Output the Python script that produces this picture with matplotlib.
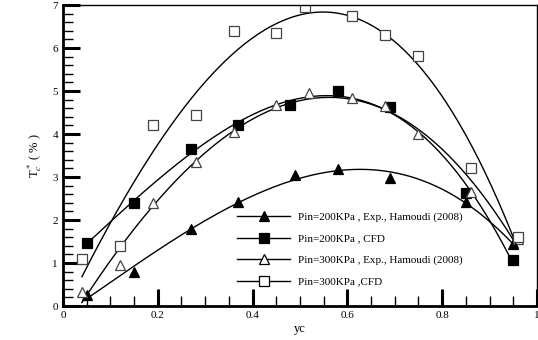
import matplotlib
matplotlib.use("Agg")
import matplotlib.pyplot as plt
from matplotlib.ticker import MultipleLocator
import numpy as np

plt.rcParams["font.family"] = ["Liberation Serif", "DejaVu Serif"]
plt.rcParams["mathtext.fontset"] = "stix"

# Pin=200KPa, Exp., Hamoudi (2008)
x_exp200 = [0.05, 0.15, 0.27, 0.37, 0.49, 0.58, 0.69, 0.85, 0.95]
y_exp200 = [0.25, 0.78, 1.80, 2.42, 3.05, 3.18, 2.98, 2.42, 1.45]

# Pin=200KPa, CFD
x_cfd200 = [0.05, 0.15, 0.27, 0.37, 0.48, 0.58, 0.69, 0.85, 0.95]
y_cfd200 = [1.47, 2.40, 3.65, 4.20, 4.68, 5.00, 4.62, 2.62, 1.08]

# Pin=300KPa, Exp., Hamoudi (2008)
x_exp300 = [0.04, 0.12, 0.19, 0.28, 0.36, 0.45, 0.52, 0.61, 0.68, 0.75, 0.86, 0.96]
y_exp300 = [0.33, 0.95, 2.40, 3.35, 4.05, 4.68, 4.95, 4.85, 4.65, 4.00, 2.65, 1.55]

# Pin=300KPa, CFD
x_cfd300 = [0.04, 0.12, 0.19, 0.28, 0.36, 0.45, 0.51, 0.61, 0.68, 0.75, 0.86, 0.96]
y_cfd300 = [1.10, 1.40, 4.20, 4.45, 6.40, 6.35, 6.95, 6.75, 6.30, 5.82, 3.22, 1.60]

series = [
    (x_exp200, y_exp200, "^", "black", "Pin=200KPa , Exp., Hamoudi (2008)"),
    (x_cfd200, y_cfd200, "s", "black", "Pin=200KPa , CFD"),
    (x_exp300, y_exp300, "^", "white", "Pin=300KPa , Exp., Hamoudi (2008)"),
    (x_cfd300, y_cfd300, "s", "white", "Pin=300KPa ,CFD"),
]

fig = plt.figure(figsize=(5.38, 3.40), dpi=100)
ax = fig.add_axes([0.117, 0.10, 0.881, 0.885])

for xs, ys, mk, fc, lbl in series:
    xs = np.asarray(xs)
    ys = np.asarray(ys)
    # cubic trend line through each data set
    coef = np.polyfit(xs, ys, 3)
    xf = np.linspace(xs.min(), xs.max(), 200)
    ax.plot(xf, np.polyval(coef, xf), color="black", lw=1.0)
    ax.plot(xs, ys, linestyle="none", marker=mk, ms=7, mfc=fc,
            mec="black" if fc == "black" else "#444444", mew=0.9)
    ax.plot([], [], color="black", lw=1.0, marker=mk, ms=7, mfc=fc,
            mec="black", mew=0.9, label=lbl)

ax.set_xlim(0, 1)
ax.set_ylim(0, 7)
ax.xaxis.set_major_locator(MultipleLocator(0.2))
ax.xaxis.set_minor_locator(MultipleLocator(0.05))
ax.yaxis.set_major_locator(MultipleLocator(1))
ax.yaxis.set_minor_locator(MultipleLocator(0.2))
ax.xaxis.set_major_formatter(plt.FuncFormatter(lambda v, p: f"{v:g}"))
ax.tick_params(which="major", direction="in", length=12, width=2.2,
               labelsize=8, top=False, right=False)
ax.tick_params(which="minor", direction="in", length=7, width=1.0,
               top=False, right=False)
ax.spines["left"].set_linewidth(2.0)
ax.spines["bottom"].set_linewidth(2.0)
ax.spines["top"].set_linewidth(1.0)
ax.spines["right"].set_linewidth(1.0)

ax.set_xlabel("yc", fontsize=9, labelpad=2)
ax.set_ylabel(r"T$_c^*$ ( % )", fontsize=9, labelpad=6)

ax.legend(loc="center left", bbox_to_anchor=(0.367, 0.188), frameon=False,
          fontsize=8, handlelength=4.8, handletextpad=0.7, labelspacing=1.05,
          borderpad=0, borderaxespad=0)

fig.savefig("out.png", dpi=100)
